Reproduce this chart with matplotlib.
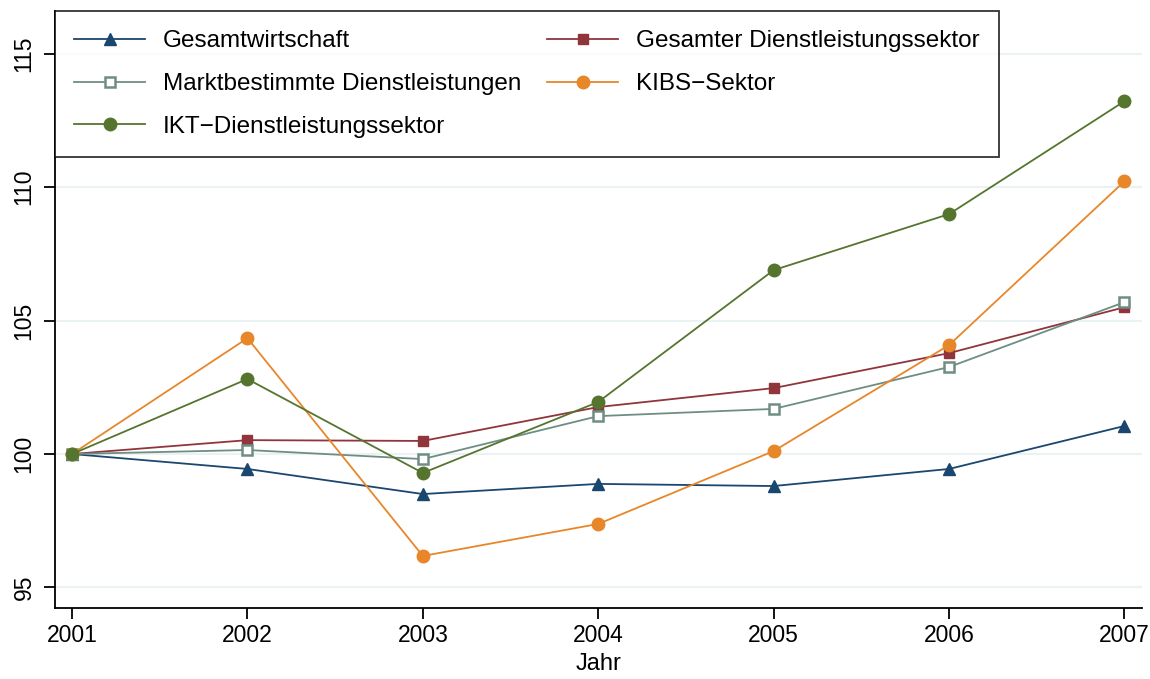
import matplotlib.pyplot as plt

plt.rcParams['font.family'] = ['Liberation Sans', 'DejaVu Sans']

years = [2001, 2002, 2003, 2004, 2005, 2006, 2007]
gesamtwirtschaft = [100, 99.44, 98.50, 98.88, 98.80, 99.44, 101.05]
dienstleistung = [100, 100.52, 100.49, 101.76, 102.47, 103.78, 105.50]
marktbestimmt = [100, 100.15, 99.81, 101.42, 101.69, 103.26, 105.69]
kibs = [100, 104.34, 96.18, 97.38, 100.11, 104.08, 110.22]
ikt = [100, 102.81, 99.29, 101.95, 106.89, 108.99, 113.22]

y_ticks = [95, 100, 105, 110, 115]

fig = plt.figure(figsize=(11.5, 6.79), dpi=100)
ax = fig.add_axes([55 / 1150, 71 / 679, 1087 / 1150, 597 / 679])

lw = 1.3
ms = 9
h1, = ax.plot(years, gesamtwirtschaft, color="#1a476f", lw=lw, marker="^", ms=ms,
              label="Gesamtwirtschaft")
h2, = ax.plot(years, dienstleistung, color="#90353b", lw=lw, marker="s", ms=ms - 1.5,
              label="Gesamter Dienstleistungssektor")
h3, = ax.plot(years, marktbestimmt, color="#6e8e84", lw=lw, marker="s", ms=ms - 2,
              mfc="white", mew=1.8, label="Marktbestimmte Dienstleistungen")
h4, = ax.plot(years, kibs, color="#e8862a", lw=lw, marker="o", ms=ms,
              label="KIBS\u2212Sektor")
h5, = ax.plot(years, ikt, color="#55752f", lw=lw, marker="o", ms=ms,
              label="IKT\u2212Dienstleistungssektor")

ax.set_xlim(2000.903, 2007.10)
ax.set_ylim(94.23, 116.6)
ax.set_xticks(years)
ax.set_yticks(y_ticks)
ax.tick_params(labelsize=16.5, length=8, width=1.3)
ax.tick_params(axis="y", pad=6)
for lab in ax.get_yticklabels():
    lab.set_rotation(90)
    lab.set_va("center")
ax.grid(axis="y", color="#eaf2f3", lw=1.5)
ax.set_axisbelow(True)
for s in ["top", "right"]:
    ax.spines[s].set_visible(False)
for s in ["left", "bottom"]:
    ax.spines[s].set_linewidth(1.3)
ax.set_xlabel("Jahr", fontsize=17, labelpad=4)

leg = ax.legend([h1, h3, h5, h2, h4],
                [h.get_label() for h in [h1, h3, h5, h2, h4]],
                loc="upper left", ncol=2, fontsize=17.5, frameon=True,
                fancybox=False, edgecolor="black", borderaxespad=0,
                handlelength=2.9, handletextpad=0.74, columnspacing=1.07,
                labelspacing=0.85, borderpad=0.8)
leg.get_frame().set_linewidth(1.3)

fig.savefig("out.png", dpi=100)
